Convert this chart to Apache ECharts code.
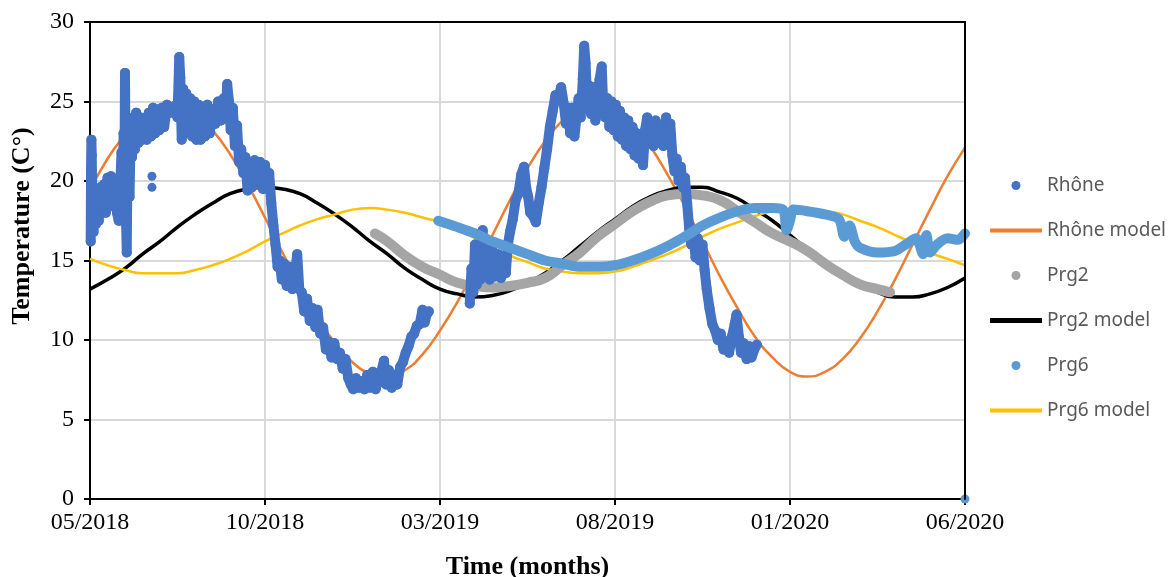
<!DOCTYPE html>
<html>
<head>
<meta charset="utf-8">
<script src="https://cdn.jsdelivr.net/npm/echarts@6/dist/echarts.min.js"></script>
<style>
  html, body { margin: 0; padding: 0; background: #fff; }
  #chart { width: 1169px; height: 577px; }
</style>
</head>
<body>
<div id="chart"></div>
<script>
// x = months since 05/2018
const xTickLabels = ["05/2018", "10/2018", "03/2019", "08/2019", "01/2020", "06/2020"];

// Rhône measurements (null = gap in record)
const rhoneTemp = [
  [0.02,16.2],[0.03,20.8],[0.04,22.6],[0.05,21.6],[0.07,18.0],[0.1,16.8],[0.13,19.5],[0.17,17.3],
  [0.21,19.0],[0.25,17.5],[0.3,19.6],[0.35,18.0],[0.4,19.8],[0.45,18.0],[0.5,20.2],[0.55,18.4],
  [0.6,20.3],[0.66,18.6],[0.72,20.0],[0.77,18.0],[0.82,17.5],[0.86,19.5],[0.9,21.8],[0.93,17.5],
  [0.96,23.0],[0.98,19.0],[1.0,26.8],[1.01,23.5],[1.03,17.5],[1.05,15.5],[1.07,21.0],[1.1,23.8],
  [1.13,19.0],[1.16,23.0],[1.2,21.5],[1.24,24.0],[1.28,22.0],[1.32,24.3],[1.38,22.4],[1.44,24.0],
  [1.5,22.6],[1.56,23.8],[1.62,22.6],[1.68,24.3],[1.74,22.8],[1.8,24.6],[1.86,23.0],[1.92,24.5],
  [1.98,23.2],[2.05,24.6],[2.12,23.4],[2.2,24.8],[2.3,24.3],[2.4,24.7],[2.5,24.0],[2.55,27.8],
  [2.58,26.5],[2.62,22.6],[2.66,25.8],[2.7,23.0],[2.75,25.5],[2.8,23.2],[2.86,25.2],[2.92,22.8],
  [2.98,25.0],[3.04,22.6],[3.1,24.8],[3.16,22.6],[3.22,24.5],[3.28,22.8],[3.35,24.8],[3.42,23.0],
  [3.5,24.5],[3.58,23.6],[3.66,25.0],[3.74,23.8],[3.82,25.2],[3.88,24.2],[3.92,26.1],[3.97,25.0],
  [4.02,23.2],[4.08,24.6],[4.14,22.2],[4.2,23.5],[4.26,21.2],[4.32,22.0],[4.38,20.5],[4.44,21.5],
  [4.5,19.4],[4.56,21.2],[4.62,19.6],[4.7,21.3],[4.78,19.8],[4.86,21.2],[4.94,19.5],[5.0,21.0],
  [5.06,19.8],[5.12,20.5],[5.18,18.6],[5.24,17.2],[5.3,16.0],[5.36,14.6],[5.42,15.0],[5.48,13.8],
  [5.55,14.8],[5.62,13.4],[5.7,14.6],[5.78,13.2],[5.86,14.2],[5.92,15.4],[5.98,13.2],[6.05,13.0],
  [6.12,11.8],[6.2,12.6],[6.28,11.2],[6.36,12.0],[6.44,10.8],[6.5,11.9],[6.58,10.4],[6.66,10.8],
  [6.74,9.4],[6.82,9.9],[6.9,8.9],[6.98,9.8],[7.06,8.8],[7.14,9.2],[7.22,8.2],[7.3,8.8],
  [7.38,7.6],[7.45,7.2],[7.52,6.9],[7.6,7.6],[7.68,7.0],[7.76,7.4],[7.84,6.9],[7.92,7.8],
  [8.0,7.0],[8.08,8.0],[8.16,6.9],[8.24,7.6],[8.32,8.0],[8.4,8.7],[8.46,7.2],[8.54,8.1],
  [8.62,7.0],[8.7,7.8],[8.78,7.2],[8.86,8.3],[8.94,8.6],[9.02,9.2],[9.1,9.6],[9.18,10.2],
  [9.26,10.4],[9.34,10.9],[9.42,11.0],[9.5,11.9],[9.56,11.1],[9.62,11.6],[9.68,11.8],
  [10.2,null],
  [10.85,12.3],[10.9,14.5],[10.95,13.0],[11.0,16.0],[11.05,13.5],[11.1,15.8],[11.15,13.8],[11.22,16.9],
  [11.28,14.0],[11.35,15.8],[11.42,13.8],[11.5,15.6],[11.58,14.0],[11.66,15.4],[11.74,13.9],[11.82,15.2],
  [11.88,14.2],[11.94,16.0],[12.0,16.8],[12.08,17.6],[12.16,18.8],[12.24,19.2],[12.32,20.4],[12.4,20.9],
  [12.46,19.6],[12.52,19.0],[12.58,18.0],[12.66,17.8],[12.74,17.4],[12.82,18.6],[12.9,19.6],[12.98,20.8],
  [13.06,22.0],[13.14,23.4],[13.22,24.4],[13.3,25.4],[13.38,25.2],[13.46,25.9],[13.54,24.8],[13.6,23.6],
  [13.66,24.6],[13.72,23.0],[13.78,24.6],[13.84,22.8],[13.9,24.0],[13.96,25.2],[14.02,24.0],[14.08,26.4],
  [14.12,28.5],[14.16,27.4],[14.2,25.2],[14.26,26.0],[14.32,24.2],[14.38,25.9],[14.44,23.8],[14.5,25.2],
  [14.56,26.4],[14.62,27.2],[14.66,25.0],[14.72,24.0],[14.78,25.2],[14.84,23.4],[14.9,25.0],[14.96,23.2],
  [15.02,24.8],[15.08,22.8],[15.14,24.4],[15.2,22.6],[15.26,24.0],[15.32,22.2],[15.38,23.8],[15.44,22.0],
  [15.5,23.4],[15.56,21.6],[15.62,23.0],[15.68,21.4],[15.74,22.4],[15.8,21.0],[15.86,23.2],[15.92,24.0],
  [15.98,22.6],[16.04,23.4],[16.1,22.2],[16.16,23.8],[16.22,22.4],[16.3,23.4],[16.38,22.2],[16.46,24.0],
  [16.52,22.8],[16.58,23.6],[16.64,21.6],[16.7,20.6],[16.76,21.4],[16.82,20.0],[16.88,20.9],[16.94,19.6],
  [17.0,20.2],[17.06,18.6],[17.12,17.0],[17.18,16.0],[17.24,16.8],[17.3,15.2],[17.36,16.4],[17.42,15.0],
  [17.5,16.0],[17.56,14.4],[17.62,13.2],[17.7,12.0],[17.78,11.0],[17.86,10.6],[17.94,10.0],[18.02,10.4],
  [18.1,9.4],[18.18,9.9],[18.26,9.2],[18.34,10.2],[18.42,11.0],[18.47,11.6],[18.54,10.2],[18.6,9.2],
  [18.68,9.8],[18.76,8.8],[18.84,9.6],[18.9,8.9],[18.98,9.4],[19.05,9.7]
];
const rhoneLoose = [[1.77,20.3],[1.77,19.6]];

const rhoneModel = [
  [0,19.4],[0.5,21.4],[1,22.9],[1.5,24.1],[2,24.7],[2.5,24.8],[3,24.3],[3.5,23.2],[4,21.7],[4.5,19.8],
  [5,17.7],[5.5,15.5],[6,13.4],[6.5,11.4],[7,9.8],[7.5,8.6],[8,7.9],[8.5,7.7],[9,8.1],[9.5,9.1],
  [10,10.6],[10.5,12.4],[11,14.5],[11.5,16.6],[12,18.8],[12.5,20.8],[13,22.5],[13.5,23.8],[14,24.6],
  [14.5,24.8],[15,24.5],[15.5,23.6],[16,22.2],[16.5,20.4],[17,18.4],[17.5,16.2],[18,14.0],[18.5,12.0],
  [19,10.2],[19.5,8.9],[20,8.0],[20.5,7.7],[21,8.0],[21.5,8.8],[22,10.1],[22.5,11.8],[23,13.8],
  [23.5,16.0],[24,18.2],[24.5,20.3],[25,22.1]
];

const prg2Temp = [
  [8.14,16.7],[8.5,16.2],[9.0,15.3],[9.5,14.6],[10.0,14.1],[10.5,13.6],[11.0,13.4],[11.5,13.3],
  [12.0,13.4],[12.5,13.6],[13.0,13.9],[13.5,14.7],[14.0,15.5],[14.5,16.5],[15.0,17.3],[15.5,18.1],
  [16.0,18.7],[16.5,19.1],[17.0,19.2],[17.5,19.1],[18.0,18.8],[18.5,18.1],[19.0,17.4],[19.5,16.7],
  [20.0,16.2],[20.5,15.6],[21.0,14.8],[21.5,14.1],[22.0,13.5],[22.5,13.2],[22.86,13.0]
];

const prg2Model = [
  [0,13.2],[0.5,13.8],[1,14.5],[1.5,15.4],[2,16.2],[2.5,17.1],[3,17.9],[3.5,18.6],[4,19.2],[4.5,19.5],
  [5,19.6],[5.5,19.5],[6,19.2],[6.5,18.6],[7,17.9],[7.5,17.1],[8,16.2],[8.5,15.4],[9,14.5],[9.5,13.8],
  [10,13.2],[10.5,12.9],[11,12.7],[11.5,12.8],[12,13.1],[12.5,13.6],[13,14.2],[13.5,15.0],[14,15.9],
  [14.5,16.8],[15,17.6],[15.5,18.4],[16,19.0],[16.5,19.4],[17,19.6],[17.5,19.6],[18,19.3],[18.5,18.9],
  [19,18.2],[19.5,17.5],[20,16.6],[20.5,15.7],[21,14.9],[21.5,14.1],[22,13.5],[22.5,13.0],[23,12.7],
  [23.5,12.7],[24,12.9],[24.5,13.3],[25,13.9]
];

const prg6Temp = [
  [9.95,17.5],[10.5,17.1],[11.0,16.7],[11.5,16.2],[12.0,15.8],[12.5,15.4],[13.0,15.0],[13.5,14.8],
  [14.0,14.6],[14.5,14.6],[15.0,14.7],[15.5,15.0],[16.0,15.4],[16.5,15.9],[17.0,16.5],[17.5,17.2],
  [18.0,17.7],[18.5,18.1],[19.0,18.3],[19.5,18.3],[19.8,18.2],[19.9,16.9],[20.0,17.5],[20.1,18.2],
  [20.5,18.1],[21.0,17.9],[21.4,17.6],[21.55,16.5],[21.7,17.2],[21.85,16.2],[22.0,15.8],[22.5,15.5],
  [23.0,15.6],[23.3,16.0],[23.6,16.4],[23.8,15.4],[23.9,16.6],[24.0,15.5],[24.2,16.0],[24.5,16.4],
  [24.8,16.3],[25.0,16.7]
];
const prg6Loose = [[25,0]];

const prg6Model = [
  [0,15.1],[0.5,14.7],[1,14.4],[1.5,14.2],[2,14.2],[2.5,14.2],[3,14.4],[3.5,14.7],[4,15.1],[4.5,15.6],
  [5,16.2],[5.5,16.7],[6,17.2],[6.5,17.6],[7,17.9],[7.5,18.2],[8,18.3],[8.5,18.2],[9,18.0],[9.5,17.7],
  [10,17.4],[10.5,16.9],[11,16.4],[11.5,15.8],[12,15.3],[12.5,14.9],[13,14.5],[13.5,14.3],[14,14.2],
  [14.5,14.2],[15,14.3],[15.5,14.6],[16,15.0],[16.5,15.4],[17,15.9],[17.5,16.5],[18,17.0],[18.5,17.4],
  [19,17.8],[19.5,18.1],[20,18.2],[20.5,18.2],[21,18.1],[21.5,17.9],[22,17.5],[22.5,17.1],[23,16.6],
  [23.5,16.1],[24,15.5],[24.5,15.1],[25,14.7]
];

const serif = "'Liberation Serif', 'Times New Roman', serif";
const frameLine = { show: true, onZero: false, lineStyle: { color: "#000", width: 2 } };

const chart = echarts.init(document.getElementById("chart"));

chart.setOption({
  animation: false,
  backgroundColor: "#fff",
  grid: {
    left: 90, right: 204, top: 22, bottom: 78,
    outerBoundsMode: "none",
    containLabel: false
  },
  legend: {
    orient: "vertical",
    left: 985,
    top: 171,
    itemWidth: 52,
    itemHeight: 9,
    itemGap: 26,
    textStyle: { color: "#595959", fontSize: 19, fontFamily: "'Noto Sans', sans-serif" },
    data: [
      { name: "Rhône", icon: "circle" },
      { name: "Rhône model", icon: "path://M0,0H52V4H0Z" },
      { name: "Prg2", icon: "circle" },
      { name: "Prg2 model", icon: "path://M0,0H52V5H0Z" },
      { name: "Prg6", icon: "circle" },
      { name: "Prg6 model", icon: "path://M0,0H52V4H0Z" }
    ]
  },
  graphic: [{
    type: "text",
    x: 22, y: 226,
    rotation: Math.PI / 2,
    style: {
      text: "Temperature (C°)",
      font: "bold 26px " + serif,
      fill: "#000",
      align: "center",
      verticalAlign: "middle"
    }
  }],
  xAxis: [
    {
      type: "value",
      min: 0, max: 25, interval: 5,
      name: "Time (months)",
      nameLocation: "middle",
      nameGap: 55,
      nameTextStyle: { fontFamily: serif, fontWeight: "bold", fontSize: 26, color: "#000" },
      axisLine: { show: true, onZero: false, lineStyle: { color: "#000", width: 2 } },
      axisTick: { show: true, length: 6, lineStyle: { color: "#000", width: 2 } },
      axisLabel: {
        margin: 12, fontFamily: serif, fontSize: 24, color: "#000",
        formatter: (v) => xTickLabels[Math.round(v / 5)]
      },
      splitLine: { show: true, lineStyle: { color: "#d9d9d9", width: 2 } }
    },
    {
      // top frame
      type: "value", position: "top", min: 0, max: 25, interval: 5,
      axisLine: frameLine, axisTick: { show: false }, axisLabel: { show: false },
      splitLine: { show: false }, z: 10
    }
  ],
  yAxis: [
    {
      type: "value",
      min: 0, max: 30, interval: 5,
      axisLine: { show: true, onZero: false, lineStyle: { color: "#000", width: 2 } },
      axisTick: { show: true, length: 6, lineStyle: { color: "#000", width: 2 } },
      axisLabel: { margin: 16, fontFamily: serif, fontSize: 24, color: "#000" },
      splitLine: { show: true, lineStyle: { color: "#d9d9d9", width: 2 } }
    },
    {
      // right frame
      type: "value", position: "right", min: 0, max: 30, interval: 5,
      axisLine: frameLine, axisTick: { show: false }, axisLabel: { show: false },
      splitLine: { show: false }, z: 10
    }
  ],
  series: [
    {
      name: "Rhône model", type: "line", data: rhoneModel, smooth: true, symbol: "none",
      z: 2, lineStyle: { color: "#ed7d31", width: 2.5 }, itemStyle: { color: "#ed7d31" }
    },
    {
      name: "Prg2 model", type: "line", data: prg2Model, smooth: true, symbol: "none",
      z: 2, lineStyle: { color: "#000", width: 3.5 }, itemStyle: { color: "#000" }
    },
    {
      name: "Prg6 model", type: "line", data: prg6Model, smooth: true, symbol: "none",
      z: 2, lineStyle: { color: "#ffc000", width: 2.5 }, itemStyle: { color: "#ffc000" }
    },
    {
      name: "Prg2", type: "line", data: prg2Temp, smooth: true, symbol: "none",
      z: 3, lineStyle: { color: "#a5a5a5", width: 10, cap: "round" }, itemStyle: { color: "#a5a5a5" }
    },
    {
      name: "Rhône", type: "line", data: rhoneTemp, connectNulls: false,
      symbol: "circle", symbolSize: 10, showSymbol: true, showAllSymbol: true,
      z: 4, lineStyle: { color: "#4472c4", width: 10, join: "round", cap: "round" },
      itemStyle: { color: "#4472c4" }
    },
    {
      name: "Rhône", type: "scatter", data: rhoneLoose, symbolSize: 9,
      z: 4, itemStyle: { color: "#4472c4", opacity: 1 }
    },
    {
      name: "Prg6", type: "line", data: prg6Temp, smooth: 0.3, symbol: "none",
      z: 5, lineStyle: { color: "#5b9bd5", width: 10, cap: "round", join: "round" }, itemStyle: { color: "#5b9bd5" }
    },
    {
      name: "Prg6", type: "scatter", data: prg6Loose, symbolSize: 9, clip: false,
      z: 5, itemStyle: { color: "#5b9bd5", opacity: 1 }
    }
  ]
});
</script>
</body>
</html>
